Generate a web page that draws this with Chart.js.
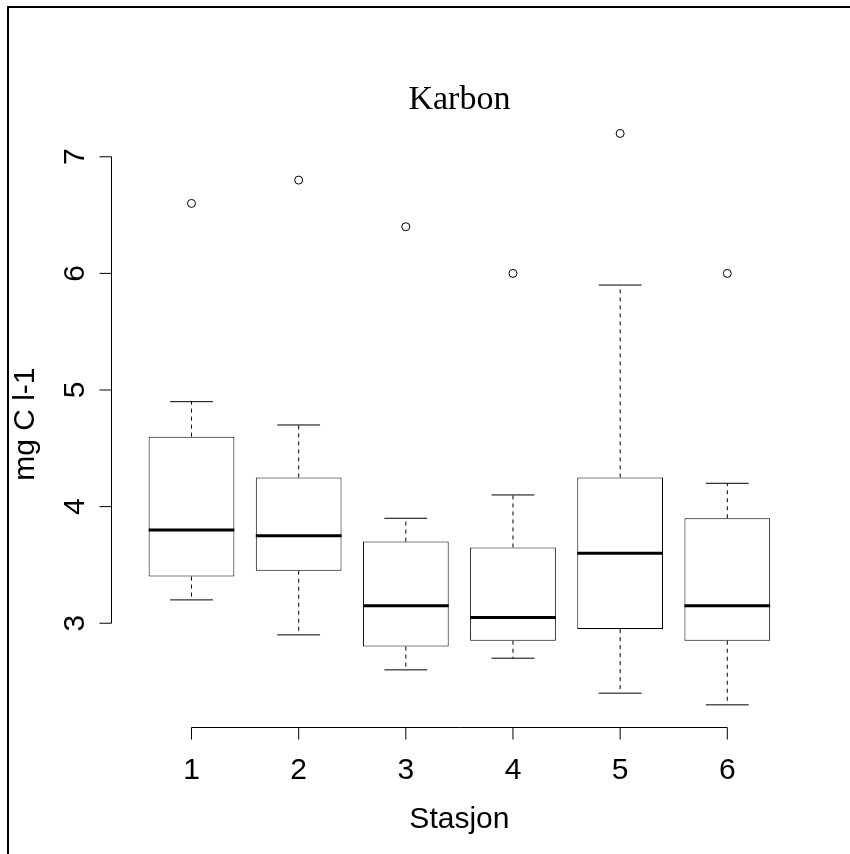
<!DOCTYPE html>
<html>
<head>
<meta charset="utf-8">
<title>Karbon</title>
<script src="https://cdn.jsdelivr.net/npm/chart.js@4/dist/chart.umd.min.js"></script>
<style>
  html, body { margin: 0; padding: 0; background: #fff; }
  #wrap { position: relative; width: 850px; height: 854px; overflow: hidden; }
  #c { position: absolute; left: 0; top: 0; }
  #frame { position: absolute; left: 7px; top: 6px; right: -10px; bottom: -10px;
           border-top: 2px solid #000; border-left: 2px solid #000; pointer-events: none; }
</style>
</head>
<body>
<div id="wrap">
  <canvas id="c" width="850" height="854"></canvas>
  <div id="frame"></div>
</div>
<script>
// Carbon (mg C l-1) per station: box-and-whisker summary
const stations    = [1, 2, 3, 4, 5, 6];
const whiskerLow  = [3.2, 2.9, 2.6, 2.7, 2.4, 2.3];
const lowerQuart  = [3.4, 3.45, 2.8, 2.85, 2.95, 2.85];
const medians     = [3.8, 3.75, 3.15, 3.05, 3.6, 3.15];
const upperQuart  = [4.6, 4.25, 3.7, 3.65, 4.25, 3.9];
const whiskerHigh = [4.9, 4.7, 3.9, 4.1, 5.9, 4.2];
const outliers    = [6.6, 6.8, 6.4, 6.0, 7.2, 6.0];

const xTicks = [1, 2, 3, 4, 5, 6];
const xTickLabels = ['1', '2', '3', '4', '5', '6'];
const yTicks = [3, 4, 5, 6, 7];
const yTickLabels = ['3', '4', '5', '6', '7'];

const titleText = 'Karbon';
const xTitle = 'Stasjon';
const yTitle = 'mg C l-1';

// axis limits: data range widened by 4% on each side
const yLo = Math.min(...whiskerLow, ...outliers);
const yHi = Math.max(...whiskerHigh, ...outliers);
const yPad = (yHi - yLo) * 0.04;
const xLo = stations[0] - 0.5;
const xHi = stations[stations.length - 1] + 0.5;
const xPad = (xHi - xLo) * 0.04;

const BOX_HALF = 0.4;   // half box width, x units
const CAP_HALF = 0.2;   // half staple width, x units

const whiskerPoints = stations.flatMap((s, i) => [
  { x: s, y: upperQuart[i] }, { x: s, y: whiskerHigh[i] }, { x: s, y: null },
  { x: s, y: lowerQuart[i] }, { x: s, y: whiskerLow[i] }, { x: s, y: null }
]);
const capPoints = stations.flatMap((s, i) => [
  { x: s - CAP_HALF, y: whiskerHigh[i] }, { x: s + CAP_HALF, y: whiskerHigh[i] }, { x: s, y: null },
  { x: s - CAP_HALF, y: whiskerLow[i] }, { x: s + CAP_HALF, y: whiskerLow[i] }, { x: s, y: null }
]);
const medianPoints = stations.flatMap((s, i) => [
  { x: s - BOX_HALF, y: medians[i] }, { x: s + BOX_HALF, y: medians[i] }, { x: s, y: null }
]);

const SANS = '"Liberation Sans", Arial, Helvetica, sans-serif';
const SERIF = '"Liberation Serif", "Times New Roman", Times, serif';

// draws the base-graphics style axes, tick labels and titles
const baseAxes = {
  id: 'baseAxes',
  afterDraw(chart) {
    const { ctx, chartArea, scales: { x, y } } = chart;
    ctx.save();
    ctx.strokeStyle = '#000';
    ctx.fillStyle = '#000';
    ctx.lineWidth = 1;

    // bottom axis
    const ay = Math.round(chartArea.bottom) - 0.5;
    const x0 = x.getPixelForValue(xTicks[0]);
    const x1 = x.getPixelForValue(xTicks[xTicks.length - 1]);
    ctx.beginPath();
    ctx.moveTo(x0, ay); ctx.lineTo(x1, ay);
    xTicks.forEach(v => {
      const px = x.getPixelForValue(v);
      ctx.moveTo(px, ay); ctx.lineTo(px, ay + 12);
    });
    ctx.stroke();
    ctx.font = '30px ' + SANS;
    ctx.textAlign = 'center';
    ctx.textBaseline = 'alphabetic';
    xTicks.forEach((v, i) => ctx.fillText(xTickLabels[i], x.getPixelForValue(v), ay + 51));

    // left axis
    const ax = Math.round(chartArea.left) - 0.5;
    const y0 = y.getPixelForValue(yTicks[0]);
    const y1 = y.getPixelForValue(yTicks[yTicks.length - 1]);
    ctx.beginPath();
    ctx.moveTo(ax, y0); ctx.lineTo(ax, y1);
    yTicks.forEach(v => {
      const py = y.getPixelForValue(v);
      ctx.moveTo(ax, py); ctx.lineTo(ax - 12, py);
    });
    ctx.stroke();
    yTicks.forEach((v, i) => {
      ctx.save();
      ctx.translate(ax - 27.5, y.getPixelForValue(v));
      ctx.rotate(-Math.PI / 2);
      ctx.fillText(yTickLabels[i], 0, 0);
      ctx.restore();
    });

    // axis titles
    const cx = (chartArea.left + chartArea.right) / 2;
    ctx.fillText(xTitle, cx, ay + 100.5);
    ctx.save();
    ctx.translate(ax - 77.5, (chartArea.top + chartArea.bottom) / 2 + 5);
    ctx.rotate(-Math.PI / 2);
    ctx.fillText(yTitle, 0, 0);
    ctx.restore();

    // main title
    ctx.font = '34px ' + SERIF;
    ctx.fillText(titleText, cx, chartArea.top - 1.6);
    ctx.restore();
  }
};

new Chart(document.getElementById('c'), {
  type: 'bar',
  data: {
    datasets: [
      {
        type: 'bar',
        data: stations.map((s, i) => ({ x: s, y: [lowerQuart[i], upperQuart[i]] })),
        backgroundColor: '#fff',
        borderColor: '#000',
        borderWidth: 1,
        borderSkipped: false,
        barPercentage: BOX_HALF * 2,
        categoryPercentage: 1,
        order: 5
      },
      {
        type: 'line',
        data: whiskerPoints,
        borderColor: '#000',
        borderWidth: 1,
        borderDash: [4, 4],
        pointRadius: 0,
        spanGaps: false,
        fill: false,
        order: 4
      },
      {
        type: 'line',
        data: capPoints,
        borderColor: '#000',
        borderWidth: 1,
        pointRadius: 0,
        spanGaps: false,
        fill: false,
        order: 3
      },
      {
        type: 'line',
        data: medianPoints,
        borderColor: '#000',
        borderWidth: 3,
        pointRadius: 0,
        spanGaps: false,
        fill: false,
        order: 2
      },
      {
        type: 'scatter',
        data: stations.map((s, i) => ({ x: s, y: outliers[i] })),
        pointStyle: 'circle',
        pointRadius: 4,
        pointBorderWidth: 1,
        pointBorderColor: '#000',
        pointBackgroundColor: 'rgba(0,0,0,0)',
        order: 1
      }
    ]
  },
  options: {
    responsive: false,
    devicePixelRatio: 1,
    animation: false,
    events: [],
    layout: { padding: { left: 112.2, right: 43.4, top: 110.6, bottom: 126.3 } },
    plugins: { legend: { display: false }, tooltip: { enabled: false }, title: { display: false } },
    scales: {
      x: {
        type: 'linear', display: false, offset: false,
        min: xLo - xPad, max: xHi + xPad,
        afterBuildTicks: s => { s.ticks = xTicks.map(v => ({ value: v })); }
      },
      y: {
        type: 'linear', display: false,
        min: yLo - yPad, max: yHi + yPad,
        afterBuildTicks: s => { s.ticks = yTicks.map(v => ({ value: v })); }
      }
    }
  },
  plugins: [baseAxes]
});
</script>
</body>
</html>
